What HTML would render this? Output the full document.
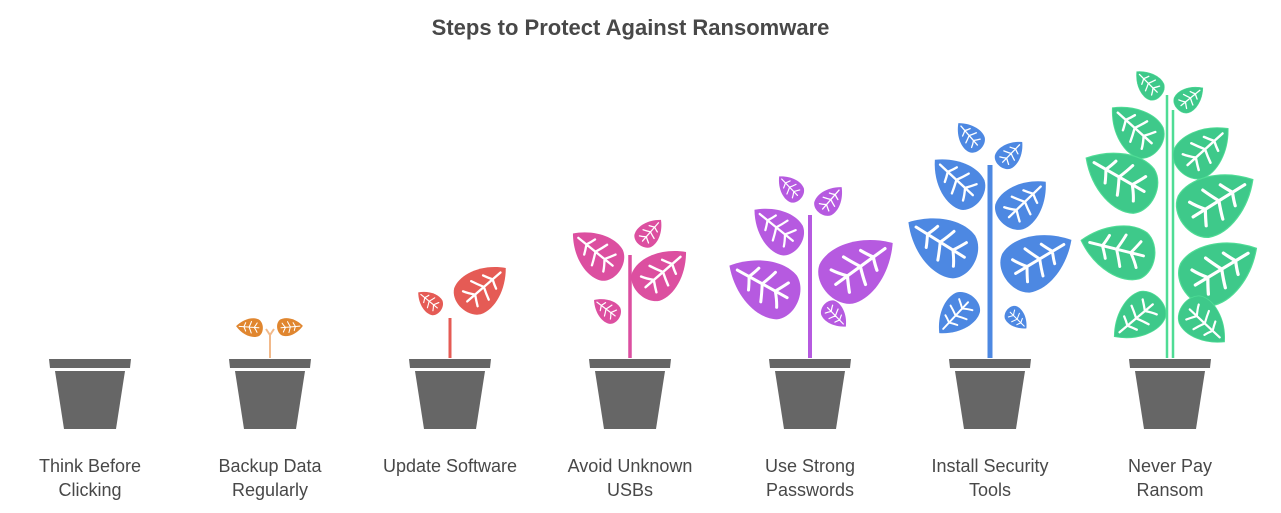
<!DOCTYPE html>
<html><head><meta charset="utf-8"><style>
body{margin:0;background:#fff;}
.wrap{position:relative;width:1281px;height:513px;overflow:hidden;font-family:"Liberation Sans",sans-serif;}
.t{position:absolute;left:0;width:1261px;top:15px;text-align:center;font-weight:bold;font-size:22px;color:#484848;}
.lb{position:absolute;width:180px;text-align:center;font-size:18px;line-height:24px;color:#484848;top:454px;}
</style></head><body><div class="wrap">
<div class="t">Steps to Protect Against Ransomware</div>
<svg width="1281" height="513" style="position:absolute;left:0;top:0">
<defs>
<g id="lf">
<path d="M100,0 C72,-34 32,-44 10,-32 C-10,-18 -7,20 15,32 C40,42 76,28 100,0Z"/>
<g stroke="#fff" stroke-width="4" fill="none" stroke-linecap="round">
<path d="M12,0 L88,0 M30,0 Q22,-10 18,-18 M30,0 Q24,10 20,18 M50,0 Q44,-12 40,-22 M50,0 Q45,12 42,22 M70,0 Q65,-9 62,-16 M70,0 Q66,9 64,16"/>
</g></g>
<g id="pot"><path d="M-41,359 L41,359 L40,368 L-40,368Z" fill="#666"/><path d="M-35,371 L35,371 L26,429 L-26,429Z" fill="#666"/></g>
</defs>
<g transform="translate(90,0)"><use href="#pot"/></g>
<g transform="translate(270,0)"><use href="#pot"/></g>
<g transform="translate(450,0)"><use href="#pot"/></g>
<g transform="translate(630,0)"><use href="#pot"/></g>
<g transform="translate(810,0)"><use href="#pot"/></g>
<g transform="translate(990,0)"><use href="#pot"/></g>
<g transform="translate(1170,0)"><use href="#pot"/></g>
<g fill="#e0862f">
<path d="M270,358 L270,335 M270,335 L266,329 M270,335 L274,329" stroke="#f2b98a" stroke-width="2" fill="none"/>
<use href="#lf" transform="translate(262,328) rotate(184) scale(0.26)"/>
<use href="#lf" transform="translate(278,328) rotate(-5) scale(0.25)"/>
</g>
<g fill="#e55b55">
<path d="M450,358 L450,318" stroke="#e55b55" stroke-width="3"/>
<use href="#lf" transform="translate(440,310) rotate(219) scale(0.28)"/>
<use href="#lf" transform="translate(462,306) rotate(-41) scale(0.58)"/>
</g>
<g fill="#dc4fa0">
<path d="M630,358 L630,255" stroke="#dc4fa0" stroke-width="3.5"/>
<use href="#lf" transform="translate(618,270) rotate(219) scale(0.58)"/>
<use href="#lf" transform="translate(640,244) rotate(-49) scale(0.32)"/>
<use href="#lf" transform="translate(640,292) rotate(-41) scale(0.61)"/>
<use href="#lf" transform="translate(618,318) rotate(217) scale(0.30)"/>
</g>
<g fill="#b65ae0">
<path d="M810,358 L810,215" stroke="#b65ae0" stroke-width="4"/>
<use href="#lf" transform="translate(800,198) rotate(226) scale(0.30)"/>
<use href="#lf" transform="translate(820,212) rotate(-49) scale(0.33)"/>
<use href="#lf" transform="translate(798,245) rotate(219) scale(0.56)"/>
<use href="#lf" transform="translate(828,290) rotate(-36) scale(0.80)"/>
<use href="#lf" transform="translate(795,302) rotate(209) scale(0.75)"/>
<use href="#lf" transform="translate(825,305) rotate(46) scale(0.30)"/>
</g>
<g fill="#4d88e2">
<path d="M990,358 L990,165" stroke="#4d88e2" stroke-width="5"/>
<use href="#lf" transform="translate(980,148) rotate(229) scale(0.33)"/>
<use href="#lf" transform="translate(1000,165) rotate(-46) scale(0.32)"/>
<use href="#lf" transform="translate(978,200) rotate(223) scale(0.59)"/>
<use href="#lf" transform="translate(1004,222) rotate(-44) scale(0.58)"/>
<use href="#lf" transform="translate(972,262) rotate(212) scale(0.75)"/>
<use href="#lf" transform="translate(1008,278) rotate(-31) scale(0.74)"/>
<use href="#lf" transform="translate(972,298) rotate(133) scale(0.48)"/>
<use href="#lf" transform="translate(1008,310) rotate(45) scale(0.26)"/>
</g>
<g fill="#3ec98a" stroke="#4fdc95" stroke-width="1.5">
<path d="M1167,358 L1167,95 M1173,358 L1173,110" stroke="#4fdc95" stroke-width="2.5" fill="none"/>
<use href="#lf" transform="translate(1160,95) rotate(225) scale(0.33)"/>
<use href="#lf" transform="translate(1178,108) rotate(-39) scale(0.32)"/>
<use href="#lf" transform="translate(1157,148) rotate(222) scale(0.60)"/>
<use href="#lf" transform="translate(1182,170) rotate(-42) scale(0.62)"/>
<use href="#lf" transform="translate(1152,196) rotate(210) scale(0.76)"/>
<use href="#lf" transform="translate(1185,222) rotate(-32) scale(0.80)"/>
<use href="#lf" transform="translate(1152,258) rotate(194) scale(0.73)"/>
<use href="#lf" transform="translate(1187,290) rotate(-31) scale(0.81)"/>
<use href="#lf" transform="translate(1158,300) rotate(140) scale(0.57)"/>
<use href="#lf" transform="translate(1185,305) rotate(43) scale(0.54)"/>
</g>
</svg>
<div class="lb" style="left:0">Think Before<br>Clicking</div>
<div class="lb" style="left:180px">Backup Data<br>Regularly</div>
<div class="lb" style="left:360px">Update Software</div>
<div class="lb" style="left:540px">Avoid Unknown<br>USBs</div>
<div class="lb" style="left:720px">Use Strong<br>Passwords</div>
<div class="lb" style="left:900px">Install Security<br>Tools</div>
<div class="lb" style="left:1080px">Never Pay<br>Ransom</div>
</div></body></html>
